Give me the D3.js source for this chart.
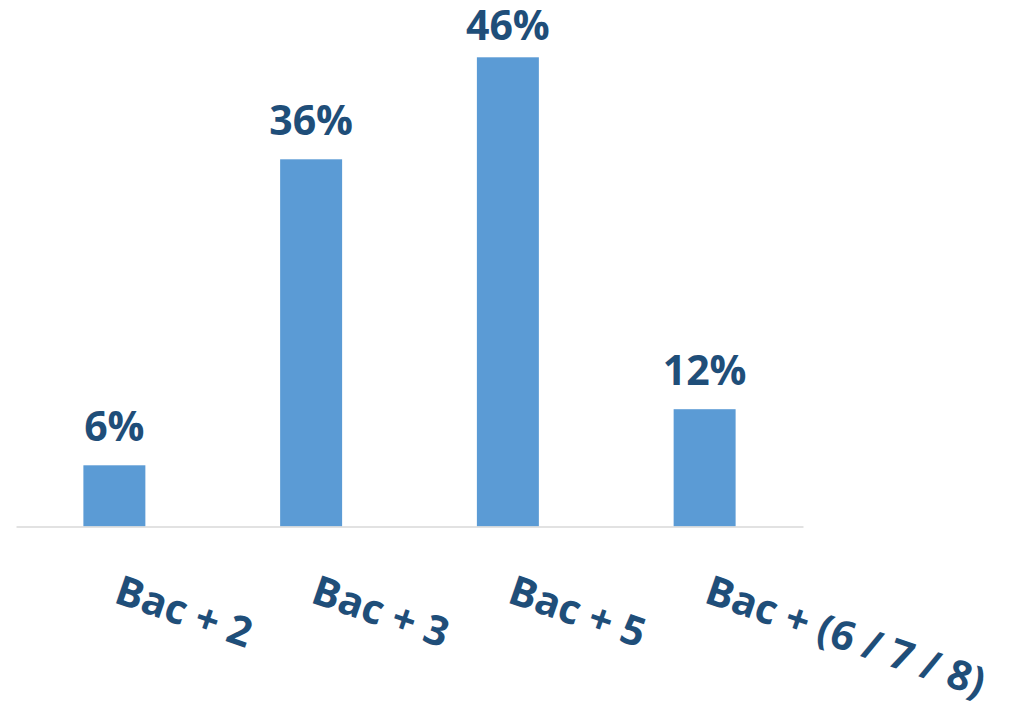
<!DOCTYPE html>
<html>
<head>
<meta charset="utf-8">
<script src="https://cdn.jsdelivr.net/npm/d3@7"></script>
<style>
  html, body { margin: 0; padding: 0; background: #ffffff; }
  svg { display: block; }
</style>
</head>
<body>
<script>
const categories = ["Bac + 2", "Bac + 3", "Bac + 5", "Bac + (6 / 7 / 8)"];
const values = [6, 36, 46, 11.5];
const valueLabels = ["6%", "36%", "46%", "12%"];

const W = 1025, H = 710;
const svg = d3.select("body").append("svg").attr("width", W).attr("height", H);

const x = d3.scaleBand().domain(categories).range([16, 803]).paddingInner(0.685).paddingOuter(0.3425);
const y = d3.scaleLinear().domain([0, 50]).range([526.5, 16.5]);

const font = "'Open Sans', 'Noto Sans', sans-serif";
const textColor = "#1f4e79";

svg.selectAll("rect.bar").data(values).join("rect")
  .attr("class", "bar")
  .attr("x", (d, i) => x(categories[i]))
  .attr("width", x.bandwidth())
  .attr("y", d => y(d))
  .attr("height", d => y(0) - y(d))
  .attr("fill", "#5b9bd5");

// baseline axis
const axis = svg.append("g").attr("transform", `translate(0,${y(0)})`)
  .call(d3.axisBottom(x).tickSize(0).tickFormat(""));
axis.select(".domain").attr("stroke", "#d9d9d9").attr("stroke-width", 1.5);

// value labels
svg.selectAll("text.val").data(values).join("text")
  .attr("class", "val")
  .attr("x", (d, i) => x(categories[i]) + x.bandwidth() / 2)
  .attr("y", d => Math.max(y(d) - 24, 40))
  .attr("text-anchor", "middle")
  .attr("font-family", font)
  .attr("font-weight", 700)
  .attr("font-size", 41)
  .attr("fill", textColor)
  .text((d, i) => valueLabels[i]);

// category labels (rotated)
svg.selectAll("text.cat").data(categories).join("text")
  .attr("class", "cat")
  .attr("transform", d => `translate(${x(d) + x.bandwidth() / 2 - 2},602) rotate(19)`)
  .attr("text-anchor", "start")
  .attr("font-family", font)
  .attr("font-weight", 700)
  .attr("font-size", 41)
  .attr("fill", textColor)
  .text(d => d);
</script>
</body>
</html>
